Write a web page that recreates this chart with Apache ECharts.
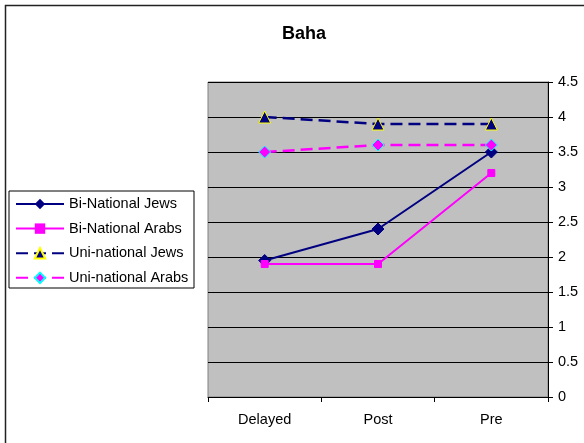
<!DOCTYPE html>
<html>
<head>
<meta charset="utf-8">
<script src="https://cdn.jsdelivr.net/npm/echarts@6/dist/echarts.min.js"></script>
<style>html,body{margin:0;padding:0;background:#fff}#c{width:584px;height:443px}</style>
</head>
<body>
<div id="c"></div>
<script>
var categories = ['Delayed', 'Post', 'Pre'];
var biJews = [1.95, 2.4, 3.5];
var biArabs = [1.9, 1.9, 3.2];
var uniJews = [4.0, 3.9, 3.9];
var uniArabs = [3.5, 3.6, 3.6];
var seriesNames = ['Bi-National Jews', 'Bi-National Arabs', 'Uni-national Jews', 'Uni-national Arabs'];

var font = 'Liberation Sans, Arial, sans-serif';
var chart = echarts.init(document.getElementById('c'));
chart.setOption({
  animation: false,
  backgroundColor: '#fff',
  title: {
    text: 'Baha', left: 299, top: 20, textAlign: 'center',
    textStyle: {fontFamily: font, fontSize: 18, fontWeight: 'bold', color: '#000'}
  },
  graphic: [{
    type: 'rect', shape: {x: 5.5, y: 5.5, width: 620, height: 480},
    style: {fill: 'none', stroke: '#222', lineWidth: 1.5}, silent: true, z: -1
  }],
  legend: {
    orient: 'vertical', left: 9, top: 191,
    padding: [5.5, 3, 2.7, 6], itemGap: 9.6, itemWidth: 48, itemHeight: 13,
    borderColor: '#000', borderWidth: 1, backgroundColor: '#fff',
    textStyle: {fontFamily: font, fontSize: 14.5, lineHeight: 15, color: '#000', width: 122},
    data: seriesNames
  },
  grid: {
    left: 208, right: 36, top: 82, bottom: 46,
    show: true, backgroundColor: '#C0C0C0', borderColor: '#808080', borderWidth: 1
  },
  xAxis: {
    type: 'category', data: categories, boundaryGap: true,
    axisLine: {lineStyle: {color: '#000', width: 1}},
    axisTick: {show: true, length: 5, lineStyle: {color: '#000'}},
    axisLabel: {fontFamily: font, fontSize: 14.5, color: '#000', margin: 15}
  },
  yAxis: {
    type: 'value', position: 'right', min: 0, max: 4.5, interval: 0.5,
    axisLine: {show: true, lineStyle: {color: '#000', width: 1}},
    axisTick: {show: true, length: 5, inside: false, lineStyle: {color: '#000'}},
    axisLabel: {fontFamily: font, fontSize: 14.5, color: '#000', margin: 10},
    splitLine: {lineStyle: {color: '#000', width: 1}}
  },
  series: [
    {
      name: seriesNames[0], type: 'line', data: biJews,
      symbol: 'diamond', symbolSize: 12,
      lineStyle: {color: '#000080', width: 2},
      itemStyle: {color: '#000080', borderColor: '#000080'}
    },
    {
      name: seriesNames[1], type: 'line', data: biArabs,
      symbol: 'rect', symbolSize: 7,
      lineStyle: {color: '#FF00FF', width: 2},
      itemStyle: {color: '#FF00FF', borderColor: '#FF00FF'}
    },
    {
      name: seriesNames[2], type: 'line', data: uniJews,
      symbol: 'triangle', symbolSize: 12,
      lineStyle: {color: '#000080', width: 2.5, type: [12, 6]},
      itemStyle: {color: '#000080', borderColor: '#FFFF00', borderWidth: 1}
    },
    {
      name: seriesNames[3], type: 'line', data: uniArabs,
      symbol: 'diamond', symbolSize: 12,
      lineStyle: {color: '#FF00FF', width: 2.5, type: [12, 6]},
      itemStyle: {color: '#FF00FF', borderColor: '#00FFFF', borderWidth: 1}
    }
  ]
});
</script>
</body>
</html>
